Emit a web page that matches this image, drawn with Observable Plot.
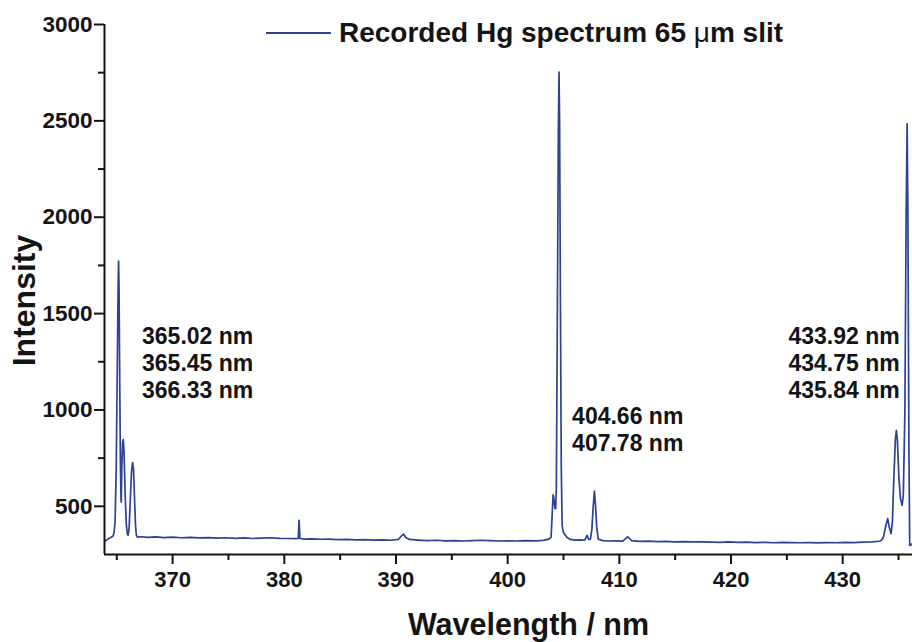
<!DOCTYPE html>
<html>
<head>
<meta charset="utf-8">
<script src="https://cdn.jsdelivr.net/npm/d3@7"></script>
<script src="https://cdn.jsdelivr.net/npm/@observablehq/plot@0.6"></script>
<style>
  html, body { margin: 0; padding: 0; background: white; }
  #chart { width: 912px; height: 642px; }
</style>
</head>
<body>
<div id="chart"></div>
<script>
// ---- Data ----
const wavelength = [
  363.95, 364.20, 364.45, 364.65, 364.75, 364.85, 364.95, 365.05, 365.12, 365.16,
  365.20, 365.27, 365.33, 365.38, 365.40, 365.45, 365.52, 365.58, 365.65, 365.75,
  365.85, 365.95, 366.01, 366.10, 366.20, 366.32, 366.42, 366.50, 366.60, 366.68,
  366.75, 366.85, 367.2, 367.8, 368.5, 369.2, 370.0, 370.8, 371.6, 372.4,
  373.2, 374.0, 374.8, 375.6, 376.4, 377.2, 378.0, 378.8, 379.6, 380.4,
  381.0, 381.25, 381.32, 381.40, 381.8, 382.5, 383.3, 384.0, 384.8, 385.6,
  386.4, 387.2, 388.0, 388.8, 389.6, 390.2, 390.55, 390.69, 390.85, 391.2,
  392.0, 392.8, 393.6, 394.4, 395.2, 396.0, 396.8, 397.6, 398.4, 399.2,
  400.0, 400.8, 401.6, 402.4, 403.2, 403.7, 403.89, 403.98, 404.07, 404.14,
  404.23, 404.30, 404.36, 404.45, 404.54, 404.60, 404.65, 404.73, 404.80, 404.88,
  404.99, 405.32, 405.61, 406.0, 406.5, 406.9, 407.11, 407.25, 407.41, 407.54,
  407.66, 407.77, 407.87, 407.99, 408.12, 408.5, 409.0, 409.6, 410.3, 410.75,
  411.1, 411.8, 412.6, 413.4, 414.2, 415.0, 415.8, 416.6, 417.4, 418.2,
  419.0, 419.8, 420.6, 421.4, 422.2, 423.0, 423.8, 424.6, 425.4, 426.2,
  427.0, 427.8, 428.6, 429.4, 430.2, 431.0, 431.8, 432.6, 433.1, 433.37,
  433.55, 433.67, 433.82, 434.03, 434.18, 434.33, 434.45, 434.58, 434.72, 434.81,
  434.90, 435.03, 435.17, 435.32, 435.43, 435.57, 435.68, 435.77, 435.84, 435.93,
  436.00, 436.11, 436.20
];
const intensity = [
  320, 330, 338, 345, 362, 420, 700, 1250, 1650, 1772,
  1650, 1100, 700, 540, 522, 700, 830, 846, 780, 560,
  410, 355, 349, 380, 520, 680, 727, 690, 520, 400,
  350, 340, 342, 339, 341, 338, 340, 337, 339, 336,
  338, 335, 337, 334, 336, 333, 335, 337, 334, 333,
  332, 334, 427, 333, 330, 331, 329, 330, 327, 328,
  326, 327, 325, 326, 324, 328, 350, 355, 340, 328,
  325, 322, 324, 321, 322, 320, 322, 324, 322, 320,
  321, 320, 322, 321, 323, 330, 340, 450, 560, 540,
  490, 488, 600, 1500, 2450, 2753, 2500, 1500, 700, 400,
  365, 338, 328, 325, 326, 324, 349, 328, 330, 380,
  500, 579, 500, 380, 330, 322, 320, 321, 319, 342,
  322, 318, 319, 317, 318, 316, 317, 315, 316, 314,
  313, 315, 313, 314, 312, 313, 311, 313, 312, 311,
  312, 310, 312, 311, 313, 312, 314, 316, 318, 320,
  330, 345, 390, 436, 390, 358, 420, 650, 850, 894,
  840, 650, 540, 505, 560, 1000, 2000, 2485, 2000, 800,
  297, 300, 305
];

const xMajorTicks = [370, 380, 390, 400, 410, 420, 430];
const xMinorTicks = [365, 375, 385, 395, 405, 415, 425, 435];
const yMajorTicks = [500, 1000, 1500, 2000, 2500, 3000];
const yMinorTicks = [750, 1250, 1750, 2250, 2750];
const xDomain = [363.9, 436.25];
const yDomain = [250, 3000];

const annotationText = [
  "365.02 nm\n365.45 nm\n366.33 nm",
  "404.66 nm\n407.78 nm",
  "433.92 nm\n434.75 nm\n435.84 nm"
];
const annotationX = [367.26, 405.77, 425.14];
const annotationY = [1246, 902, 1246];

const seriesName = "Recorded Hg spectrum 65 ";
const xTitle = "Wavelength / nm";
const yTitle = "Intensity";

// ---- Build tables ----
const spectrum = wavelength.map((w, i) => ({wl: w, I: intensity[i]}));
const annotations = annotationText.map((t, i) => ({text: t, x: annotationX[i], y: annotationY[i]}));

const lineColor = "#2c4294";
const ink = "#141414";

const chart = Plot.plot({
  width: 912,
  height: 642,
  marginTop: 24,
  marginBottom: 88,
  marginLeft: 104,
  marginRight: 0,
  x: {domain: xDomain},
  y: {domain: yDomain},
  style: {
    fontFamily: "'Liberation Sans', Arial, Helvetica, sans-serif",
    fontWeight: "bold",
    color: ink,
    background: "white",
    overflow: "visible"
  },
  marks: [
    Plot.line(spectrum, {x: "wl", y: "I", stroke: lineColor, strokeWidth: 1.7}),
    Plot.ruleX([xDomain[0]], {stroke: ink, strokeWidth: 2}),
    Plot.ruleY([yDomain[0]], {stroke: ink, strokeWidth: 2}),
    Plot.axisY(yMajorTicks, {tickSize: 10, tickPadding: 2, fontSize: 22.5, strokeWidth: 2, label: null, stroke: ink, tickFormat: d => String(d)}),
    Plot.axisY(yMinorTicks, {tickSize: 6, tickFormat: () => "", strokeWidth: 2, label: null, stroke: ink}),
    Plot.axisX(xMajorTicks, {tickSize: 10, tickPadding: 7, fontSize: 22, strokeWidth: 2, label: null, stroke: ink, tickFormat: d => String(d)}),
    Plot.axisX(xMinorTicks, {tickSize: 6, tickFormat: () => "", strokeWidth: 2, label: null, stroke: ink}),
    Plot.text(annotations, {x: "x", y: "y", text: "text", textAnchor: "start", lineAnchor: "middle", fontSize: 23, lineHeight: 1.16, fill: ink}),
    Plot.text([xTitle], {frameAnchor: "bottom", textAnchor: "middle", lineAnchor: "middle", dx: 20, dy: 71, fontSize: 30.5, fill: ink}),
    Plot.text([yTitle], {frameAnchor: "left", textAnchor: "middle", lineAnchor: "middle", dx: -80, dy: 11, rotate: -90, fontSize: 32, fill: ink})
  ]
});

// Legend (inside the plot area, top)
const svg = d3.select(chart);
const lg = svg.append("g").attr("class", "legend").attr("text-anchor", "start");
lg.append("line")
  .attr("x1", 266).attr("x2", 331).attr("y1", 33).attr("y2", 33)
  .attr("stroke", lineColor).attr("stroke-width", 2);
const lt = lg.append("text")
  .attr("x", 339).attr("y", 42)
  .attr("text-anchor", "start")
  .attr("font-size", 28).attr("font-weight", "bold").attr("fill", ink);
lt.append("tspan").text(seriesName);
lt.append("tspan").attr("font-weight", "normal").text("\u03bc");
lt.append("tspan").text("m slit");

document.getElementById("chart").appendChild(chart);
</script>
</body>
</html>
